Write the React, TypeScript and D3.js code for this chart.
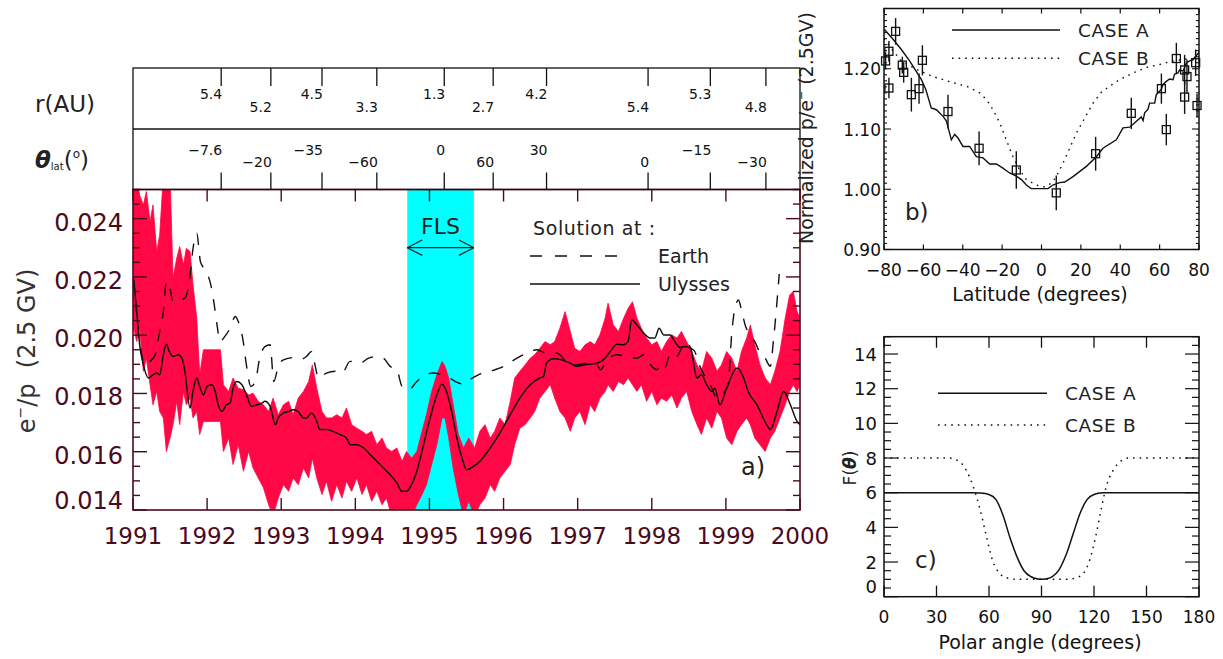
import * as d3 from 'd3';
import { useEffect, useRef } from 'react';

// ---- panel a: e-/p ratio 1991-2000 ----
const yearTickValues = [1991, 1992, 1993, 1994, 1995, 1996, 1997, 1998, 1999, 2000];
const ratioTickValues = [0.014, 0.016, 0.018, 0.02, 0.022, 0.024];
const flsRange = [1994.7, 1995.6];

const ulyssesYears = [
  1991.0, 1991.01, 1991.05, 1991.09, 1991.14, 1991.21, 1991.27, 1991.32, 1991.36, 1991.41, 1991.45,
  1991.49, 1991.54, 1991.61, 1991.66, 1991.7, 1991.77, 1991.81, 1991.86, 1991.9, 1991.95, 1992.0,
  1992.06, 1992.11, 1992.15, 1992.2, 1992.26, 1992.31, 1992.35, 1992.4, 1992.47, 1992.53, 1992.6,
  1992.67, 1992.74, 1992.78, 1992.85, 1992.92, 1992.96, 1993.03, 1993.1, 1993.16, 1993.23, 1993.3,
  1993.34, 1993.41, 1993.48, 1993.52, 1993.61, 1993.7, 1993.79, 1993.88, 1993.93, 1994.02, 1994.11,
  1994.2, 1994.29, 1994.38, 1994.47, 1994.56, 1994.63, 1994.69, 1994.76, 1994.83, 1994.92, 1995.01,
  1995.1, 1995.17, 1995.23, 1995.3, 1995.37, 1995.44, 1995.5, 1995.59, 1995.68, 1995.82, 1995.95,
  1996.09, 1996.22, 1996.36, 1996.49, 1996.54, 1996.58, 1996.67, 1996.78, 1996.9, 1996.99, 1997.08,
  1997.26, 1997.35, 1997.44, 1997.53, 1997.62, 1997.68, 1997.73, 1997.8, 1997.89, 1997.98, 1998.04,
  1998.1, 1998.16, 1998.25, 1998.31, 1998.38, 1998.45, 1998.52, 1998.61, 1998.67, 1998.74, 1998.81,
  1998.85, 1998.92, 1999.01, 1999.15, 1999.24, 1999.3, 1999.42, 1999.55, 1999.6, 1999.69, 1999.78,
  1999.87, 1999.96, 2000.0,
];
const ulyssesValues = [
  0.022, 0.02184, 0.02081, 0.01967, 0.01898, 0.01853, 0.01864, 0.0187, 0.01864, 0.01933, 0.01969,
  0.01944, 0.01927, 0.01933, 0.01921, 0.01876, 0.0175, 0.01807, 0.01853, 0.01824, 0.01795, 0.01824,
  0.0183, 0.01807, 0.01761, 0.01738, 0.01761, 0.01767, 0.01818, 0.01841, 0.0183, 0.01795, 0.01756,
  0.01761, 0.01767, 0.01773, 0.01756, 0.01693, 0.01716, 0.01733, 0.01738, 0.01744, 0.01738, 0.01716,
  0.01716, 0.01733, 0.01704, 0.01676, 0.01676, 0.0167, 0.01659, 0.01647, 0.01624, 0.01624, 0.01613,
  0.0159, 0.01567, 0.01544, 0.01521, 0.01493, 0.01464, 0.01464, 0.01487, 0.01533, 0.01624, 0.01716,
  0.01795, 0.01832, 0.01807, 0.01738, 0.01647, 0.01578, 0.01538, 0.01549, 0.01567, 0.01613, 0.01664,
  0.01727, 0.01784, 0.0183, 0.01853, 0.01858, 0.01904, 0.01919, 0.01916, 0.01904, 0.01893, 0.01898,
  0.01904, 0.01916, 0.01944, 0.01969, 0.01967, 0.01978, 0.02053, 0.02035, 0.02007, 0.0199, 0.0199,
  0.02024, 0.02001, 0.02001, 0.01978, 0.01958, 0.01961, 0.01956, 0.01853, 0.01864, 0.0183, 0.01807,
  0.01818, 0.01761, 0.01818, 0.01887, 0.01853, 0.01807, 0.01761, 0.01693, 0.01676, 0.01738, 0.01807,
  0.01761, 0.01704, 0.01693,
];

const earthYears = [
  1991.01, 1991.09, 1991.16, 1991.23, 1991.3, 1991.36, 1991.41, 1991.45, 1991.49, 1991.54, 1991.63,
  1991.7, 1991.76, 1991.81, 1991.86, 1991.91, 1991.99, 1992.05, 1992.09, 1992.14, 1992.17, 1992.24,
  1992.31, 1992.38, 1992.42, 1992.48, 1992.53, 1992.59, 1992.65, 1992.71, 1992.78, 1992.85, 1992.9,
  1992.96, 1993.03, 1993.16, 1993.25, 1993.34, 1993.41, 1993.46, 1993.5, 1993.61, 1993.73, 1993.82,
  1993.93, 1994.06, 1994.18, 1994.29, 1994.38, 1994.47, 1994.56, 1994.63, 1994.72, 1994.83, 1994.94,
  1995.05, 1995.17, 1995.26, 1995.35, 1995.46, 1995.55, 1995.66, 1995.82, 1996.0, 1996.18, 1996.31,
  1996.45, 1996.58, 1996.72, 1996.85, 1996.99, 1997.12, 1997.26, 1997.31, 1997.39, 1997.53, 1997.66,
  1997.8, 1997.89, 1998.0, 1998.07, 1998.12, 1998.18, 1998.25, 1998.34, 1998.4, 1998.47, 1998.53,
  1998.58, 1998.65, 1998.72, 1998.8, 1998.88, 1998.96, 1999.03, 1999.08, 1999.12, 1999.17, 1999.21,
  1999.26, 1999.33, 1999.39, 1999.46, 1999.53, 1999.6, 1999.64, 1999.72,
];
const earthValues = [
  0.0219, 0.01978, 0.01898, 0.0191, 0.01933, 0.02013, 0.02081, 0.02184, 0.02173, 0.02115, 0.02121,
  0.02127, 0.02184, 0.02298, 0.0235, 0.02252, 0.02218, 0.02173, 0.02115, 0.02024, 0.01978, 0.01996,
  0.02024, 0.02064, 0.02047, 0.0199, 0.01898, 0.01824, 0.01841, 0.01921, 0.01961, 0.01967, 0.01841,
  0.01893, 0.01915, 0.01923, 0.01916, 0.01927, 0.01944, 0.01893, 0.01853, 0.0187, 0.01876, 0.0187,
  0.0191, 0.01904, 0.01921, 0.01927, 0.01921, 0.01893, 0.01881, 0.01824, 0.01813, 0.01841, 0.01864,
  0.0187, 0.01864, 0.01855, 0.01841, 0.01832, 0.01848, 0.01864, 0.01876, 0.01893, 0.01921, 0.01938,
  0.0195, 0.01938, 0.01938, 0.0191, 0.01898, 0.01904, 0.01898, 0.01881, 0.01915, 0.01933, 0.01927,
  0.01921, 0.01933, 0.01893, 0.01881, 0.01904, 0.01889, 0.01938, 0.01927, 0.01955, 0.01978, 0.01955,
  0.01944, 0.01893, 0.01858, 0.01824, 0.01784, 0.018, 0.0183, 0.0201, 0.0209, 0.02121, 0.02087,
  0.02035, 0.02, 0.01978, 0.0194, 0.01921, 0.01893, 0.01978, 0.0221,
];

// red measurements: upper and lower edge of the band
const redYears = [
  1991.0, 1991.05, 1991.09, 1991.14, 1991.18, 1991.23, 1991.27, 1991.32, 1991.36, 1991.41, 1991.45,
  1991.5, 1991.54, 1991.59, 1991.63, 1991.68, 1991.72, 1991.77, 1991.81, 1991.86, 1991.9, 1991.95,
  1992.06, 1992.18, 1992.22, 1992.29, 1992.35, 1992.42, 1992.49, 1992.56, 1992.62, 1992.69, 1992.76,
  1992.83, 1992.89, 1992.96, 1993.03, 1993.1, 1993.16, 1993.23, 1993.3, 1993.37, 1993.42, 1993.48,
  1993.55, 1993.61, 1993.68, 1993.75, 1993.82, 1993.88, 1993.95, 1994.02, 1994.09, 1994.15, 1994.22,
  1994.29, 1994.36, 1994.42, 1994.49, 1994.56, 1994.63, 1994.69, 1994.76, 1994.83, 1994.9, 1994.96,
  1995.03, 1995.1, 1995.17, 1995.21, 1995.26, 1995.32, 1995.39, 1995.46, 1995.53, 1995.61, 1995.68,
  1995.75, 1995.82, 1995.88, 1995.95, 1996.02, 1996.09, 1996.15, 1996.22, 1996.29, 1996.36, 1996.42,
  1996.49, 1996.56, 1996.63, 1996.69, 1996.76, 1996.83, 1996.9, 1996.96, 1997.03, 1997.1, 1997.17,
  1997.23, 1997.3, 1997.37, 1997.41, 1997.48, 1997.55, 1997.62, 1997.68, 1997.74, 1997.8, 1997.86,
  1997.93, 1998.0, 1998.07, 1998.13, 1998.2, 1998.27, 1998.34, 1998.4, 1998.47, 1998.54, 1998.61,
  1998.67, 1998.74, 1998.81, 1998.88, 1998.94, 1999.01, 1999.08, 1999.15, 1999.21, 1999.28, 1999.33,
  1999.39, 1999.46, 1999.53, 1999.6, 1999.66, 1999.73, 1999.8, 1999.86, 1999.91, 1999.96, 2000.0,
];
const redHigh = [
  0.0255, 0.0255, 0.0248, 0.02447, 0.02493, 0.0239, 0.02447, 0.02287, 0.02344, 0.0255, 0.0255,
  0.0255, 0.02196, 0.02264, 0.02304, 0.02241, 0.02298, 0.02287, 0.02173, 0.02058, 0.01864, 0.0195,
  0.0195, 0.0195, 0.0183, 0.01807, 0.01853, 0.01818, 0.01813, 0.01795, 0.01801, 0.01773, 0.01761,
  0.01738, 0.01784, 0.01727, 0.01761, 0.01773, 0.01727, 0.01784, 0.01807, 0.01841, 0.01898, 0.01818,
  0.01738, 0.01716, 0.01716, 0.01727, 0.01716, 0.0175, 0.01693, 0.01681, 0.0167, 0.01659, 0.0167,
  0.01624, 0.01647, 0.01613, 0.01601, 0.01613, 0.01567, 0.01601, 0.01578, 0.01601, 0.0167, 0.01727,
  0.01807, 0.01864, 0.0191, 0.01893, 0.01853, 0.01761, 0.01659, 0.01613, 0.01647, 0.01613, 0.0167,
  0.01693, 0.01647, 0.0167, 0.01716, 0.01693, 0.01773, 0.01853, 0.01876, 0.01898, 0.01921, 0.01933,
  0.01955, 0.01978, 0.01967, 0.01978, 0.02024, 0.02081, 0.02013, 0.01955, 0.01944, 0.01967, 0.01978,
  0.01967, 0.02001, 0.02058, 0.0211, 0.02035, 0.02013, 0.02058, 0.02092, 0.02115, 0.02058, 0.02024,
  0.0199, 0.01967, 0.01978, 0.01944, 0.01978, 0.02001, 0.0199, 0.02013, 0.01978, 0.01944, 0.01898,
  0.01876, 0.01944, 0.01921, 0.01876, 0.01898, 0.01944, 0.01921, 0.01876, 0.01944, 0.0199, 0.02035,
  0.01967, 0.01898, 0.01853, 0.0183, 0.01876, 0.01944, 0.02058, 0.02138, 0.0215, 0.02081, 0.02058,
];
const redLow = [
  0.02035, 0.01978, 0.02024, 0.01876, 0.01921, 0.0183, 0.01761, 0.01807, 0.01738, 0.01716, 0.01601,
  0.01647, 0.01693, 0.01773, 0.01693, 0.01807, 0.01761, 0.01784, 0.01716, 0.01738, 0.01659, 0.01704,
  0.01704, 0.01704, 0.01601, 0.01647, 0.01556, 0.01624, 0.01533, 0.01601, 0.01544, 0.0151, 0.01476,
  0.01418, 0.0138, 0.01441, 0.01487, 0.01464, 0.0151, 0.01487, 0.01544, 0.0151, 0.01578, 0.0151,
  0.01453, 0.01499, 0.0143, 0.01487, 0.01441, 0.01499, 0.01464, 0.0151, 0.01453, 0.01487, 0.0143,
  0.01464, 0.01418, 0.01441, 0.0138, 0.0138, 0.0138, 0.0138, 0.0138, 0.01418, 0.01453, 0.01487,
  0.01556, 0.01624, 0.01716, 0.01716, 0.01647, 0.01544, 0.01453, 0.0138, 0.0143, 0.0138, 0.01418,
  0.01441, 0.01487, 0.01464, 0.0151, 0.01533, 0.01556, 0.01624, 0.01681, 0.01693, 0.01716, 0.01738,
  0.01784, 0.01807, 0.0183, 0.01784, 0.01738, 0.01716, 0.0167, 0.01716, 0.01738, 0.01693, 0.01761,
  0.01738, 0.01784, 0.01807, 0.0183, 0.01807, 0.01841, 0.0183, 0.01853, 0.0183, 0.01807, 0.0183,
  0.01773, 0.01807, 0.01761, 0.01784, 0.01773, 0.01795, 0.0175, 0.01784, 0.01807, 0.01738, 0.01693,
  0.01659, 0.01716, 0.01681, 0.01738, 0.01716, 0.01647, 0.01624, 0.0167, 0.01693, 0.01716, 0.01693,
  0.01647, 0.01624, 0.01601, 0.01647, 0.0167, 0.01716, 0.01761, 0.01807, 0.0183, 0.01807, 0.0183,
];

// ---- header: Ulysses distance and latitude ----
const headerYears = [1992.19, 1992.86, 1993.55, 1994.29, 1995.2, 1995.86, 1996.58, 1997.95, 1998.79, 1999.54];
const headerDistance = ['5.4', '5.2', '4.5', '3.3', '1.3', '2.7', '4.2', '5.4', '5.3', '4.8'];
const headerLatitude = ['−7.6', '−20', '−35', '−60', '0', '60', '30', '0', '−15', '−30'];

// ---- panel b: normalized p/e- vs latitude ----
const latitudeTickValues = [-80, -60, -40, -20, 0, 20, 40, 60, 80];
const normTickValues = [0.9, 1.0, 1.1, 1.2];
const caseALatitude = [
  -80, -75.4, -71.2, -67, -61, -58.8, -56, -53.4, -50, -48.3, -45.8, -44.1, -42.4, -39.9, -36.5, -33.1,
  -29.7, -26.3, -22.9, -19.6, -16.2, -12.8, -10.2, -7.7, -5.2, 3.3, 5.8, 9.2, 11.8, 16, 22.8, 27.9, 31.2,
  38, 41.4, 44.8, 48.2, 50.7, 51.6, 52.4, 54.1, 54.9, 57.5, 58.3, 60.9, 61.7, 63.4, 65.1, 66.8, 67.6,
  69.3, 70.2, 71.9, 73.6, 77, 80,
];
const caseARatio = [
  1.266, 1.249, 1.232, 1.213, 1.182, 1.166, 1.135, 1.132, 1.121, 1.113, 1.082, 1.091, 1.085, 1.071, 1.071,
  1.054, 1.052, 1.042, 1.042, 1.035, 1.027, 1.022, 1.016, 1.007, 1.001, 1.001, 1.007, 1.011, 1.012, 1.021,
  1.038, 1.054, 1.068, 1.082, 1.102, 1.103, 1.113, 1.12, 1.114, 1.127, 1.133, 1.143, 1.143, 1.157, 1.166,
  1.174, 1.179, 1.183, 1.182, 1.191, 1.193, 1.198, 1.196, 1.21, 1.216, 1.227,
];
const caseBLatitude = [
  -80, -76, -71.2, -63.6, -55.1, -45, -37.3, -31.4, -28, -24.6, -21.2, -17.9, -14.5, -11.1, -7.7, -2.6,
  1.6, 5, 7.5, 10.9, 14.3, 17.7, 21.9, 26.2, 30.4, 34.6, 39.7, 46.5, 53.2, 60, 66.8, 73.6, 80,
];
const caseBRatio = [
  1.25, 1.232, 1.213, 1.199, 1.187, 1.177, 1.17, 1.16, 1.149, 1.132, 1.11, 1.082, 1.054, 1.032, 1.016,
  1.007, 1.004, 1.01, 1.021, 1.043, 1.068, 1.093, 1.118, 1.143, 1.161, 1.171, 1.182, 1.193, 1.202, 1.207,
  1.213, 1.216, 1.213,
];
const pointLatitude = [
  -74.1, -77.5, -79.2, -77.5, -70.7, -70, -66.1, -62.2, -60.5, -47.5, -31.7, -12.8, 7.5, 27.5, 45.6, 60.9,
  63.4, 68.5, 72.7, 72.7, 73.9, 78.3, 79,
];
const pointRatio = [
  1.262, 1.229, 1.213, 1.168, 1.206, 1.194, 1.157, 1.167, 1.214, 1.129, 1.068, 1.032, 0.994, 1.059, 1.126,
  1.167, 1.099, 1.217, 1.153, 1.198, 1.187, 1.21, 1.139,
];
const pointError = [
  0.022, 0.017, 0.014, 0.017, 0.014, 0.017, 0.028, 0.025, 0.025, 0.028, 0.028, 0.031, 0.029, 0.028, 0.026,
  0.025, 0.026, 0.026, 0.028, 0.025, 0.028, 0.022, 0.019,
];

// ---- panel c: F(theta) ----
const polarTickValues = [0, 30, 60, 90, 120, 150, 180];
const fTickValues = [0, 2, 4, 6, 8, 10, 12, 14];
const caseAAngle = [0, 50, 55, 60, 64, 68, 72, 76, 80, 84, 88, 90, 92, 96, 100, 104, 108, 112, 116, 120, 125, 130, 180];
const caseAF = [6, 6, 5.98, 5.9, 5.6, 4.7, 3.4, 2.3, 1.5, 1.15, 1.02, 1.0, 1.02, 1.15, 1.55, 2.4, 3.6, 4.8, 5.6, 5.9, 5.99, 6, 6];
const caseBAngle = [0, 37, 43, 47, 51, 55, 58.5, 62, 66, 70, 76, 90, 104, 110, 114, 117.5, 121, 124, 127, 131, 135, 140, 180];
const caseBF = [8, 8, 7.8, 7.3, 6.35, 5.0, 3.5, 2.1, 1.35, 1.1, 1.0, 1.0, 1.0, 1.1, 1.35, 2.1, 3.5, 5.0, 6.35, 7.3, 7.8, 8, 8];

const WIDTH = 1223;
const HEIGHT = 659;
const FONT = '"DejaVu Sans", Verdana, sans-serif';
const MAROON = '#4a0a1c';
const INK = '#111111';
const RED = '#ff0845';

type Group = d3.Selection<SVGGElement, unknown, null, undefined>;

function addText(g: Group, x: number, y: number, s: string, size: number, anchor = 'start', color = INK) {
  return g
    .append('text')
    .attr('x', x)
    .attr('y', y)
    .attr('font-family', FONT)
    .attr('font-size', size)
    .attr('text-anchor', anchor)
    .attr('fill', color)
    .text(s);
}

function addLine(g: Group, x1: number, y1: number, x2: number, y2: number, color = INK, width = 1.3) {
  return g
    .append('line')
    .attr('x1', x1)
    .attr('y1', y1)
    .attr('x2', x2)
    .attr('y2', y2)
    .attr('stroke', color)
    .attr('stroke-width', width);
}

export default function App() {
  const svgRef = useRef<SVGSVGElement | null>(null);

  useEffect(() => {
    if (!svgRef.current) return;
    const svg = d3.select(svgRef.current);
    svg.selectAll('*').remove();
    const root = svg.append('g') as Group;
    const defs = svg.append('defs');

    // ================= panel a =================
    const xA = d3.scaleLinear().domain([1991, 2000]).range([133, 800]);
    const yA = d3.scaleLinear().domain([0.014, 0.025]).range([510, 189.5]);
    const [aLeft, aRight] = xA.range();
    const [aBottom, aTop] = yA.range();

    defs
      .append('clipPath')
      .attr('id', 'clip-a')
      .append('rect')
      .attr('x', aLeft)
      .attr('y', aTop)
      .attr('width', aRight - aLeft)
      .attr('height', aBottom - aTop);

    const plotA = root.append('g').attr('clip-path', 'url(#clip-a)') as Group;

    plotA
      .append('rect')
      .attr('x', xA(flsRange[0]))
      .attr('y', aTop)
      .attr('width', xA(flsRange[1]) - xA(flsRange[0]))
      .attr('height', aBottom - aTop)
      .attr('fill', '#00ffff');

    const band = d3
      .area<number>()
      .x((i) => xA(redYears[i]))
      .y0((i) => yA(redLow[i]))
      .y1((i) => yA(redHigh[i]));
    plotA
      .append('path')
      .attr('d', band(d3.range(redYears.length)))
      .attr('fill', RED)
      .attr('stroke', RED)
      .attr('stroke-width', 0.8);

    const lineA = d3
      .line<[number, number]>()
      .x((d) => xA(d[0]))
      .y((d) => yA(d[1]))
      .curve(d3.curveMonotoneX);

    plotA
      .append('path')
      .attr('d', lineA(d3.zip(earthYears, earthValues) as [number, number][]))
      .attr('fill', 'none')
      .attr('stroke', INK)
      .attr('stroke-width', 1.4)
      .attr('stroke-dasharray', '12 11');

    plotA
      .append('path')
      .attr('d', lineA(d3.zip(ulyssesYears, ulyssesValues) as [number, number][]))
      .attr('fill', 'none')
      .attr('stroke', INK)
      .attr('stroke-width', 1.5);

    const axesA = root.append('g') as Group;
    axesA
      .append('rect')
      .attr('x', aLeft)
      .attr('y', aTop)
      .attr('width', aRight - aLeft)
      .attr('height', aBottom - aTop)
      .attr('fill', 'none')
      .attr('stroke', MAROON)
      .attr('stroke-width', 1.6);

    yearTickValues.forEach((yr) => {
      addLine(axesA, xA(yr), aBottom, xA(yr), aBottom - 12, MAROON, 1.4);
      addLine(axesA, xA(yr), aTop, xA(yr), aTop + 12, MAROON, 1.4);
      addText(axesA, xA(yr), 543.5, String(yr), 23, 'middle', MAROON);
    });

    yA.ticks(22).forEach((v) => {
      const major = ratioTickValues.some((t) => Math.abs(t - v) < 1e-7);
      const len = major ? 14 : 7;
      addLine(axesA, aLeft, yA(v), aLeft + len, yA(v), MAROON, 1.4);
      addLine(axesA, aRight, yA(v), aRight - len, yA(v), MAROON, 1.4);
    });
    ratioTickValues.forEach((v) => {
      const y = Math.min(yA(v) + 12, aBottom - 1.5);
      addText(axesA, 123, y, d3.format('.3f')(v), 24, 'end', MAROON);
    });

    const titleA = axesA
      .append('text')
      .attr('transform', 'translate(35, 351) rotate(-90)')
      .attr('font-family', FONT)
      .attr('font-size', 24)
      .attr('text-anchor', 'middle')
      .attr('fill', '#333');
    titleA.append('tspan').text('e');
    titleA.append('tspan').attr('font-size', 14).attr('dy', -10).text('−');
    titleA.append('tspan').attr('dy', 10).text('/p\u00a0\u00a0(2.5 GV)');

    // FLS label and arrow
    const fx0 = xA(flsRange[0]);
    const fx1 = xA(flsRange[1]);
    addText(axesA, (fx0 + fx1) / 2, 234, 'FLS', 22, 'middle', '#222');
    addLine(axesA, fx0, 247.7, fx1, 247.7, '#222', 1.2);
    addLine(axesA, fx0, 247.7, fx0 + 15, 240, '#222', 1.2);
    addLine(axesA, fx0, 247.7, fx0 + 15, 255.4, '#222', 1.2);
    addLine(axesA, fx1, 247.7, fx1 - 15, 240, '#222', 1.2);
    addLine(axesA, fx1, 247.7, fx1 - 15, 255.4, '#222', 1.2);

    // legend
    addText(axesA, 533, 235, 'Solution at :', 19, 'start', '#222').attr('letter-spacing', 0.6);
    addLine(axesA, 530, 256, 627, 256, INK, 1.4).attr('stroke-dasharray', '12 13');
    addText(axesA, 658, 263, 'Earth', 19, 'start', '#222');
    addLine(axesA, 530, 284, 640, 284, INK, 1.4);
    addText(axesA, 658, 291, 'Ulysses', 19, 'start', '#222');
    addText(axesA, 741, 475, 'a)', 24, 'start', '#222');

    // ================= header =================
    const header = root.append('g') as Group;
    const hTop = 68;
    const hMid = 129;
    header
      .append('rect')
      .attr('x', aLeft)
      .attr('y', hTop)
      .attr('width', aRight - aLeft)
      .attr('height', aTop - hTop)
      .attr('fill', 'none')
      .attr('stroke', INK)
      .attr('stroke-width', 1.3);
    addLine(header, aLeft, hMid, aRight, hMid, INK, 1.3);
    headerYears.forEach((yr, i) => {
      const x = xA(yr);
      const lower = i % 2 === 1;
      addLine(header, x, hTop, x, hTop + 18, INK, 1.3);
      addLine(header, x, aTop, x, aTop - 17, INK, 1.3);
      addText(header, x + 1, lower ? 112 : 98.5, headerDistance[i], 14, 'end');
      addText(header, x + 1, lower ? 167 : 154.5, headerLatitude[i], 14, 'end');
    });
    addText(header, 35, 112, 'r(AU)', 23, 'start', '#222');
    const thetaLabel = header
      .append('text')
      .attr('x', 35)
      .attr('y', 168)
      .attr('font-family', FONT)
      .attr('font-size', 23)
      .attr('fill', '#222');
    thetaLabel.append('tspan').attr('font-weight', 'bold').attr('font-style', 'italic').text('θ');
    thetaLabel.append('tspan').attr('font-size', 10).attr('dy', 2).text('lat');
    thetaLabel.append('tspan').attr('dy', -2).text('(');
    thetaLabel.append('tspan').attr('font-size', 12).attr('dy', -10).text('o');
    thetaLabel.append('tspan').attr('dy', 10).text(')');

    // ================= panel b =================
    const xB = d3.scaleLinear().domain([-80, 80]).range([884, 1199]);
    const yB = d3.scaleLinear().domain([0.9, 1.3]).range([249.5, 8.5]);
    const [bLeft, bRight] = xB.range();
    const [bBottom, bTop] = yB.range();

    defs
      .append('clipPath')
      .attr('id', 'clip-b')
      .append('rect')
      .attr('x', bLeft)
      .attr('y', bTop)
      .attr('width', bRight - bLeft)
      .attr('height', bBottom - bTop);

    const plotB = root.append('g') as Group;
    const clippedB = plotB.append('g').attr('clip-path', 'url(#clip-b)') as Group;
    const lineB = d3
      .line<[number, number]>()
      .x((d) => xB(d[0]))
      .y((d) => yB(d[1]));
    clippedB
      .append('path')
      .attr('d', lineB(d3.zip(caseALatitude, caseARatio) as [number, number][]))
      .attr('fill', 'none')
      .attr('stroke', INK)
      .attr('stroke-width', 1.4);
    clippedB
      .append('path')
      .attr('d', lineB(d3.zip(caseBLatitude, caseBRatio) as [number, number][]))
      .attr('fill', 'none')
      .attr('stroke', INK)
      .attr('stroke-width', 1.4)
      .attr('stroke-dasharray', '1.6 5');

    pointLatitude.forEach((lat, i) => {
      const cx = xB(lat);
      const cy = yB(pointRatio[i]);
      addLine(plotB, cx, yB(pointRatio[i] - pointError[i]), cx, yB(pointRatio[i] + pointError[i]), INK, 1.4);
      plotB
        .append('rect')
        .attr('x', cx - 4)
        .attr('y', cy - 4)
        .attr('width', 8)
        .attr('height', 8)
        .attr('fill', 'none')
        .attr('stroke', INK)
        .attr('stroke-width', 1.3);
    });

    plotB
      .append('rect')
      .attr('x', bLeft)
      .attr('y', bTop)
      .attr('width', bRight - bLeft)
      .attr('height', bBottom - bTop)
      .attr('fill', 'none')
      .attr('stroke', INK)
      .attr('stroke-width', 1.5);
    latitudeTickValues.forEach((v) => {
      addLine(plotB, xB(v), bBottom, xB(v), bBottom - 5, INK, 1.2);
      addLine(plotB, xB(v), bTop, xB(v), bTop + 5, INK, 1.2);
      addText(plotB, xB(v), 276, v < 0 ? `−${-v}` : String(v), 17, 'middle');
    });
    yB.ticks(40).forEach((v) => {
      const major = normTickValues.some((t) => Math.abs(t - v) < 1e-7);
      const len = major ? 7 : 3;
      addLine(plotB, bLeft, yB(v), bLeft + len, yB(v), INK, 1.1);
      addLine(plotB, bRight, yB(v), bRight - len, yB(v), INK, 1.1);
    });
    normTickValues.forEach((v) => {
      addText(plotB, 881, yB(v) + 6.5, d3.format('.2f')(v), 17, 'end');
    });
    addText(plotB, 1040, 301, 'Latitude (degrees)', 19, 'middle');
    const titleB = plotB
      .append('text')
      .attr('transform', 'translate(813, 128) rotate(-90)')
      .attr('font-family', FONT)
      .attr('font-size', 19)
      .attr('text-anchor', 'middle')
      .attr('fill', '#222');
    titleB.append('tspan').text('Normalized p/e');
    titleB.append('tspan').attr('font-size', 11).attr('dy', -8).text('−');
    titleB.append('tspan').attr('dy', 8).text(' (2.5GV)');

    addLine(plotB, 952, 30, 1060, 30, INK, 1.4);
    addText(plotB, 1078, 36.5, 'CASE A', 18.5, 'start', '#222').attr('letter-spacing', 0.6);
    addLine(plotB, 952, 58.3, 1060, 58.3, INK, 1.4).attr('stroke-dasharray', '1.6 5');
    addText(plotB, 1078, 64.8, 'CASE B', 18.5, 'start', '#222').attr('letter-spacing', 0.6);
    addText(plotB, 905, 220, 'b)', 23, 'start', '#222');

    // ================= panel c =================
    const xC = d3.scaleLinear().domain([0, 180]).range([884, 1199]);
    const yC = d3.scaleLinear().domain([0, 15]).range([596.7, 336.7]);
    const [cLeft, cRight] = xC.range();
    const [cBottom, cTop] = yC.range();
    const plotC = root.append('g') as Group;

    const lineC = d3
      .line<[number, number]>()
      .x((d) => xC(d[0]))
      .y((d) => yC(d[1]))
      .curve(d3.curveMonotoneX);
    plotC
      .append('path')
      .attr('d', lineC(d3.zip(caseAAngle, caseAF) as [number, number][]))
      .attr('fill', 'none')
      .attr('stroke', INK)
      .attr('stroke-width', 1.5);
    plotC
      .append('path')
      .attr('d', lineC(d3.zip(caseBAngle, caseBF) as [number, number][]))
      .attr('fill', 'none')
      .attr('stroke', INK)
      .attr('stroke-width', 1.5)
      .attr('stroke-dasharray', '1.6 5');

    plotC
      .append('rect')
      .attr('x', cLeft)
      .attr('y', cTop)
      .attr('width', cRight - cLeft)
      .attr('height', cBottom - cTop)
      .attr('fill', 'none')
      .attr('stroke', INK)
      .attr('stroke-width', 1.5);
    polarTickValues.forEach((v) => {
      addLine(plotC, xC(v), cBottom, xC(v), cBottom - 11, INK, 1.3);
      addLine(plotC, xC(v), cTop, xC(v), cTop + 11, INK, 1.3);
      addText(plotC, xC(v), 623, String(v), 17, 'middle');
    });
    yC.ticks(30).forEach((v) => {
      const major = fTickValues.includes(v);
      const len = major ? 14 : 7;
      addLine(plotC, cLeft, yC(v), cLeft + len, yC(v), INK, 1.2);
      addLine(plotC, cRight, yC(v), cRight - len, yC(v), INK, 1.2);
    });
    fTickValues.forEach((v) => {
      const y = Math.min(yC(v) + 6.5, cBottom - 3.5);
      addText(plotC, 877, y, String(v), 18, 'end');
    });
    addText(plotC, 1040, 649, 'Polar angle (degrees)', 19, 'middle');
    const titleC = plotC
      .append('text')
      .attr('transform', 'translate(856, 468) rotate(-90)')
      .attr('font-family', FONT)
      .attr('font-size', 17)
      .attr('text-anchor', 'middle')
      .attr('fill', '#222');
    titleC.append('tspan').text('F(');
    titleC.append('tspan').attr('font-weight', 'bold').attr('font-style', 'italic').text('θ');
    titleC.append('tspan').text(')');

    addLine(plotC, 938, 393.3, 1047, 393.3, INK, 1.4);
    addText(plotC, 1065, 399.8, 'CASE A', 18.5, 'start', '#222').attr('letter-spacing', 0.6);
    addLine(plotC, 938, 425, 1047, 425, INK, 1.4).attr('stroke-dasharray', '1.6 5');
    addText(plotC, 1065, 431.5, 'CASE B', 18.5, 'start', '#222').attr('letter-spacing', 0.6);
    addText(plotC, 915, 568, 'c)', 23, 'start', '#222');
  }, []);

  return (
    <svg
      ref={svgRef}
      width={WIDTH}
      height={HEIGHT}
      style={{ position: 'absolute', left: 0, top: 0, background: '#ffffff' }}
    />
  );
}
